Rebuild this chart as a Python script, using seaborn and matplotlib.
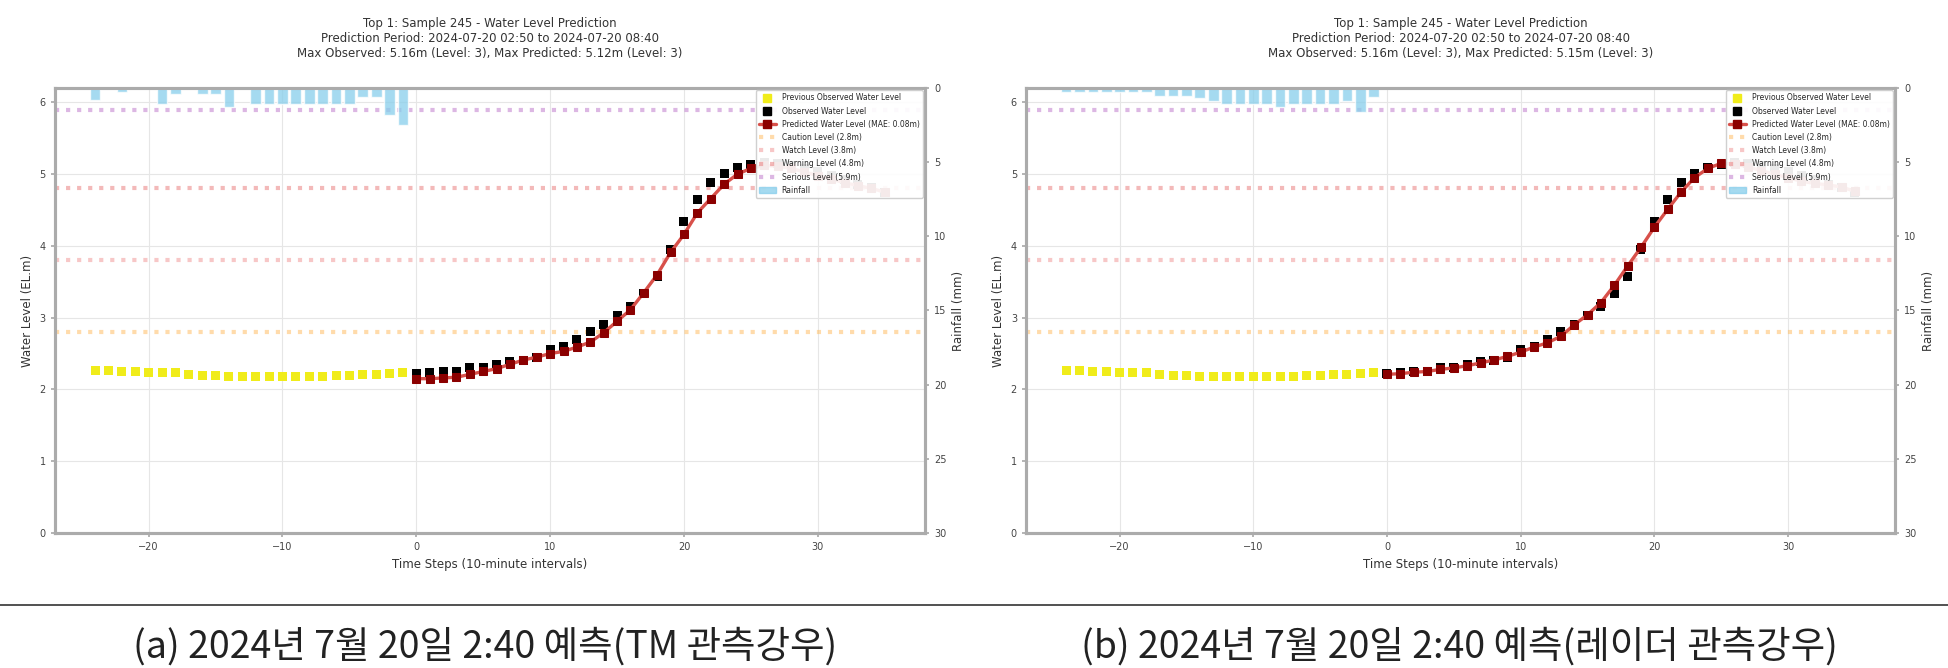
import numpy as np
import pandas as pd
import seaborn as sns
import matplotlib
matplotlib.use("Agg")
from matplotlib import pyplot as plt
from matplotlib.lines import Line2D
from matplotlib.patches import Patch

# time steps (10-minute intervals)
t_prev = list(range(-24, 0))
t_fut = list(range(0, 36))

prev_level = [2.26, 2.26, 2.25, 2.25, 2.24, 2.24, 2.23, 2.21, 2.20, 2.19, 2.18, 2.18,
              2.18, 2.18, 2.18, 2.18, 2.18, 2.18, 2.19, 2.19, 2.21, 2.21, 2.22, 2.23]

observed = [2.22, 2.24, 2.25, 2.25, 2.30, 2.31, 2.35, 2.39, 2.41, 2.45, 2.56, 2.60,
            2.70, 2.81, 2.90, 3.03, 3.16, 3.34, 3.58, 3.95, 4.34, 4.65, 4.89, 5.01,
            5.09, 5.14, 5.16, 5.15, 5.12, 5.08, 5.03, 4.98, 4.92, 4.86, 4.81, 4.75]

pred_tm = [2.15, 2.15, 2.16, 2.17, 2.21, 2.25, 2.29, 2.35, 2.41, 2.45, 2.50, 2.53,
           2.59, 2.66, 2.79, 2.95, 3.11, 3.35, 3.60, 3.91, 4.16, 4.46, 4.66, 4.86,
           5.00, 5.08, 5.12, 5.11, 5.08, 5.03, 4.98, 4.93, 4.88, 4.84, 4.80, 4.75]

pred_radar = [2.21, 2.22, 2.24, 2.25, 2.28, 2.30, 2.33, 2.37, 2.41, 2.46, 2.52, 2.59,
              2.65, 2.74, 2.90, 3.04, 3.21, 3.45, 3.72, 3.98, 4.26, 4.51, 4.75, 4.95,
              5.08, 5.15, 5.14, 5.10, 5.05, 5.00, 4.95, 4.90, 4.87, 4.85, 4.82, 4.76]

rain_tm = [0.8, 0.0, 0.3, 0.0, 0.0, 1.1, 0.4, 0.0, 0.4, 0.4, 1.3, 0.0,
           1.1, 1.1, 1.1, 1.1, 1.1, 1.1, 1.1, 1.1, 0.6, 0.6, 1.8, 2.5]

rain_radar = [0.3, 0.3, 0.3, 0.3, 0.3, 0.3, 0.3, 0.55, 0.55, 0.55, 0.7, 0.9,
              1.1, 1.1, 1.1, 1.1, 1.3, 1.1, 1.1, 1.1, 1.1, 0.9, 1.6, 0.6]

level_values = [2.8, 3.8, 4.8, 5.9]
level_names = ["Caution Level (2.8m)", "Watch Level (3.8m)",
               "Warning Level (4.8m)", "Serious Level (5.9m)"]
level_colors = ["#ffbf66", "#f29a9a", "#ea8080", "#c07ccc"]

max_pred = ["5.12", "5.15"]
captions = ["(a) 2024년 7월 20일 2:40 예측(TM 관측강우)",
            "(b) 2024년 7월 20일 2:40 예측(레이더 관측강우)"]

sns.set_theme(style="white")
plt.rcParams["font.family"] = ["DejaVu Sans"]

SPINE = "#ababab"
PRED_LINE = "#d8504a"
PRED_MARK = "#8b0000"


def draw_panel(ax, pred, rain, mp):
    prev_df = pd.DataFrame({"t": t_prev, "level": prev_level})
    obs_df = pd.DataFrame({"t": t_fut, "level": observed})
    pred_df = pd.DataFrame({"t": t_fut, "level": pred})

    for lv, col in zip(level_values, level_colors):
        ax.axhline(lv, color=col, ls=":", lw=3, alpha=0.55, zorder=1)

    sns.scatterplot(data=prev_df, x="t", y="level", marker="s", s=42,
                    color="#f0ec1a", edgecolor="none", ax=ax, zorder=3)
    sns.scatterplot(data=obs_df, x="t", y="level", marker="s", s=42,
                    color="black", edgecolor="none", ax=ax, zorder=3)
    sns.lineplot(data=pred_df, x="t", y="level", color=PRED_LINE, lw=2.4,
                 marker="s", markersize=5.2, markerfacecolor=PRED_MARK,
                 markeredgecolor=PRED_MARK, ax=ax, zorder=4)

    ax.set_xlim(-27.0, 38.0)
    ax.set_ylim(0, 6.2)
    ax.set_xticks([-20, -10, 0, 10, 20, 30])
    ax.set_yticks([0, 1, 2, 3, 4, 5, 6])
    ax.grid(True, color="#e6e6e6", lw=0.8)
    ax.set_xlabel("Time Steps (10-minute intervals)", fontsize=8.5, color="#333333")
    ax.set_ylabel("Water Level (EL.m)", fontsize=8.5, color="#333333")
    ax.tick_params(labelsize=7, colors="#444444", length=3, color=SPINE,
                   left=True, bottom=True)
    ax.set_title("Top 1: Sample 245 - Water Level Prediction\n"
                 "Prediction Period: 2024-07-20 02:50 to 2024-07-20 08:40\n"
                 "Max Observed: 5.16m (Level: 3), Max Predicted: %sm (Level: 3)" % mp,
                 fontsize=8.5, color="#333333", pad=22)

    ax2 = ax.twinx()
    ax2.bar(t_prev, rain, width=0.8, color="skyblue", alpha=0.75, zorder=2)
    ax2.set_ylim(30, 0)
    ax2.set_yticks([0, 5, 10, 15, 20, 25, 30])
    ax2.set_ylabel("Rainfall (mm)", fontsize=8.5, color="#333333")
    ax2.tick_params(labelsize=7, colors="#444444", length=3, color=SPINE, right=True)
    ax2.grid(False)

    for a in (ax, ax2):
        for sp in a.spines.values():
            sp.set_color(SPINE)
            sp.set_linewidth(2.2)

    handles = [
        Line2D([], [], ls="none", marker="s", ms=5.5, color="#f0ec1a"),
        Line2D([], [], ls="none", marker="s", ms=5.5, color="black"),
        Line2D([], [], color=PRED_LINE, lw=2.4, marker="s", ms=5.2,
               markerfacecolor=PRED_MARK, markeredgecolor=PRED_MARK),
    ]
    labels = ["Previous Observed Water Level", "Observed Water Level",
              "Predicted Water Level (MAE: 0.08m)"]
    for col, name in zip(level_colors, level_names):
        handles.append(Line2D([], [], color=col, ls=":", lw=3, alpha=0.55))
        labels.append(name)
    handles.append(Patch(color="skyblue", alpha=0.75))
    labels.append("Rainfall")
    ax2.legend(handles, labels, loc="upper right", fontsize=5.5, framealpha=0.92,
               borderaxespad=0.3, labelspacing=0.55, handlelength=2.2)


def main():
    fig = plt.figure(figsize=(19.48, 6.68), dpi=100)
    ax_a = fig.add_axes([0.0282, 0.2021, 0.4466, 0.6662])
    ax_b = fig.add_axes([0.5267, 0.2021, 0.4461, 0.6662])

    draw_panel(ax_a, pred_tm, rain_tm, max_pred[0])
    draw_panel(ax_b, pred_radar, rain_radar, max_pred[1])

    fig.add_artist(Line2D([0, 1], [0.094, 0.094], transform=fig.transFigure,
                          color="#333333", lw=1.2))
    for x, cap in zip([0.249, 0.749], captions):
        fig.text(x, 0.031, cap, ha="center", va="center", fontsize=27,
                 color="#222222", family=["Noto Sans CJK KR", "DejaVu Sans"])

    fig.savefig("out.png", dpi=100)


if __name__ == "__main__":
    main()
